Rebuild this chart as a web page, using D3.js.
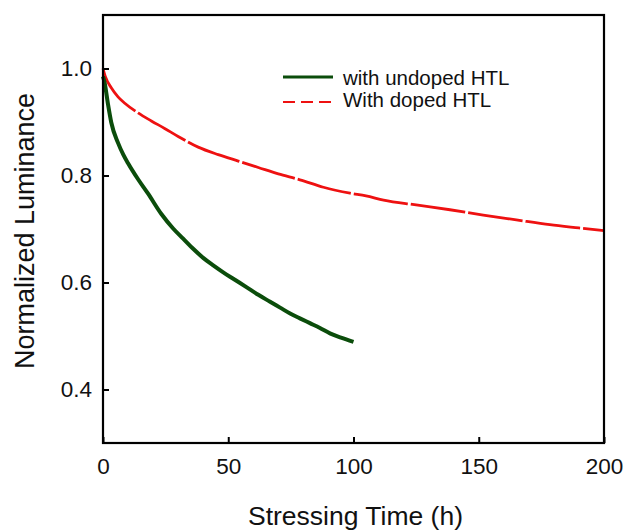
<!DOCTYPE html>
<html><head><meta charset="utf-8">
<script src="https://cdn.jsdelivr.net/npm/d3@7"></script>
<style>html,body{margin:0;padding:0;background:#fff}svg{display:block}text{font-family:"Liberation Sans",Arial,sans-serif;fill:#111}</style>
</head><body>
<script>
const undopedTime = [0, 0.7, 2, 3.3, 6, 8.1, 10, 14, 18, 23.3, 28, 32, 36, 40, 44, 48, 52, 57.4, 62, 66.7, 70.7, 74.7, 78.6, 82.6, 86.6, 90.6, 95, 100];
const undopedLum = [0.985, 0.972, 0.933, 0.899, 0.861, 0.839, 0.823, 0.793, 0.766, 0.728, 0.701, 0.682, 0.663, 0.646, 0.632, 0.619, 0.607, 0.591, 0.577, 0.564, 0.553, 0.542, 0.533, 0.524, 0.515, 0.505, 0.497, 0.489];
const dopedTime = [0, 1, 3.3, 6, 8.7, 14, 19.3, 24.6, 30, 38, 46, 54, 62, 70, 78.6, 88, 98.6, 105, 112, 125, 138.5, 151.8, 165, 178.4, 190, 200];
const dopedLum = [1.0, 0.984, 0.964, 0.947, 0.935, 0.917, 0.902, 0.888, 0.873, 0.853, 0.839, 0.827, 0.815, 0.803, 0.792, 0.778, 0.767, 0.762, 0.754, 0.745, 0.736, 0.726, 0.717, 0.708, 0.702, 0.697];
const xTicks = [0, 50, 100, 150, 200];
const yTicks = [0.4, 0.6, 0.8, 1.0];
const seriesNames = ["with undoped HTL", "With doped HTL"];

const W = 626, H = 531;
const svg = d3.select("body").append("svg").attr("width", W).attr("height", H);
const x = d3.scaleLinear().domain([0, 200]).range([103, 604]);
const y = d3.scaleLinear().domain([0.3, 1.1]).range([443, 15]);

const line = d3.line().x(d => x(d[0])).y(d => y(d[1])).curve(d3.curveMonotoneX);
const undoped = undopedTime.map((t, i) => [t, undopedLum[i]]);
const doped = dopedTime.map((t, i) => [t, dopedLum[i]]);

svg.append("path").datum(doped).attr("d", line).attr("fill", "none")
  .attr("stroke", "#ee1111").attr("stroke-width", 2.8).attr("stroke-dasharray", "55,3");
svg.append("path").datum(undoped).attr("d", line).attr("fill", "none")
  .attr("stroke", "#0b4d0b").attr("stroke-width", 4);

// axes
const xAxis = svg.append("g").attr("transform", "translate(0,443)")
  .call(d3.axisBottom(x).tickValues(xTicks).tickSize(-6).tickPadding(15).tickFormat(d3.format("d")));
const yAxis = svg.append("g").attr("transform", "translate(103,0)")
  .call(d3.axisLeft(y).tickValues(yTicks).tickSize(-6).tickPadding(11).tickFormat(d3.format(".1f")));
[xAxis, yAxis].forEach(g => {
  g.select(".domain").remove();
  g.selectAll(".tick line").attr("stroke", "#000").attr("stroke-width", 2);
  g.selectAll(".tick text").attr("font-size", 22.5).attr("fill", "#111")
    .style("font-family", '"Liberation Sans",Arial,sans-serif');
});
xAxis.selectAll(".tick text").attr("dy", "0.71em");

// frame
svg.append("rect").attr("x", x(0)).attr("y", y(1.1)).attr("width", x(200) - x(0)).attr("height", y(0.3) - y(1.1))
  .attr("fill", "none").attr("stroke", "#000").attr("stroke-width", 2.2);

// titles
svg.append("text").attr("x", (x(0) + x(200)) / 2 + 2).attr("y", 525).attr("text-anchor", "middle")
  .attr("font-size", 26.5).text("Stressing Time (h)");
svg.append("text").attr("transform", "translate(34,231) rotate(-90)")
  .attr("text-anchor", "middle").attr("font-size", 27).text("Normalized Luminance");

// legend
const lg = svg.append("g");
lg.append("line").attr("x1", 283).attr("x2", 333).attr("y1", 77).attr("y2", 77)
  .attr("stroke", "#0b4d0b").attr("stroke-width", 3);
lg.append("line").attr("x1", 283).attr("x2", 333).attr("y1", 102).attr("y2", 102)
  .attr("stroke", "#ee1111").attr("stroke-width", 2).attr("stroke-dasharray", "12,6");
lg.append("text").attr("x", 343).attr("y", 85).attr("font-size", 20.5).text(seriesNames[0]);
lg.append("text").attr("x", 343).attr("y", 107).attr("font-size", 20.5).text(seriesNames[1]);
</script>
</body></html>
